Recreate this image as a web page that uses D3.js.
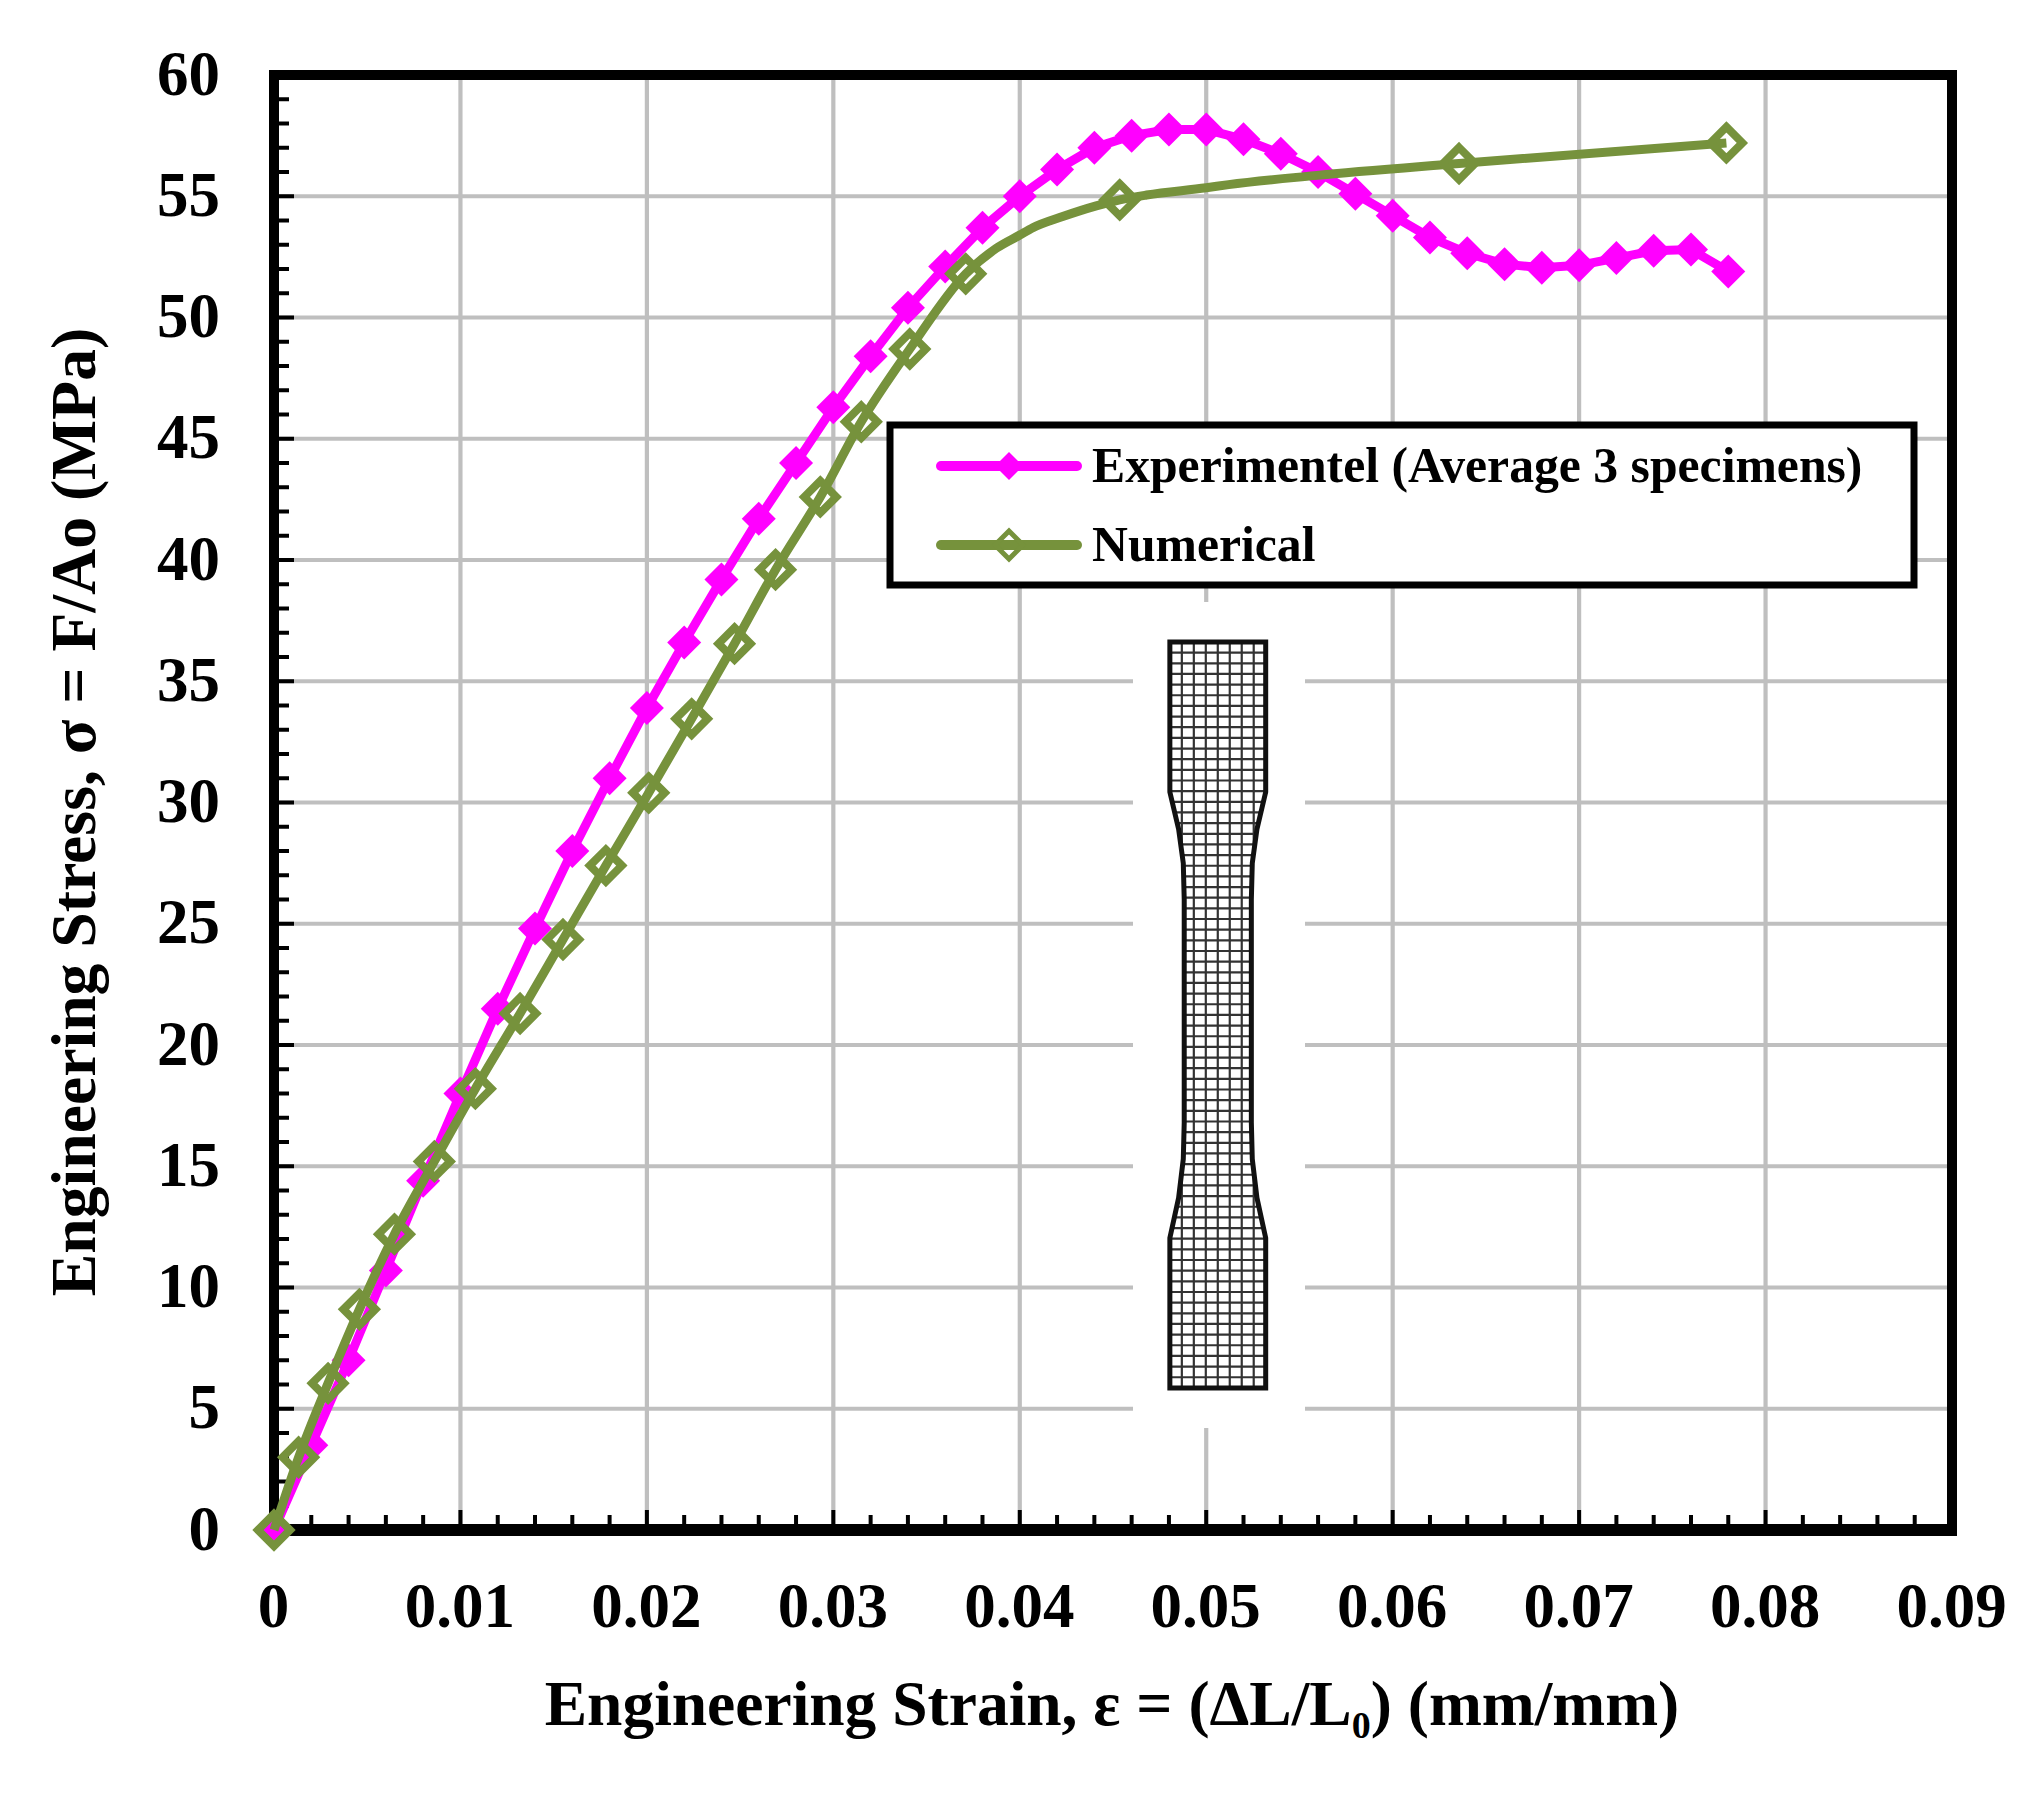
<!DOCTYPE html>
<html>
<head>
<meta charset="utf-8">
<title>Engineering stress-strain</title>
<script src="https://cdn.jsdelivr.net/npm/d3@7"></script>
<style>
	html, body { margin: 0; padding: 0; background: #fff; }
	svg { display: block; }
	text { font-family: "Liberation Serif", serif; font-weight: bold; fill: #000; }
</style>
</head>
<body>
<svg id="chart" width="2030" height="1797"></svg>
<script>
(function() {

	var xTicks = [0, 0.01, 0.02, 0.03, 0.04, 0.05, 0.06, 0.07, 0.08, 0.09];
	var yTicks = [0, 5, 10, 15, 20, 25, 30, 35, 40, 45, 50, 55, 60];
	var xTitle = 'Engineering Strain, ε = (ΔL/L';
	var xTitleSub = '0';
	var xTitleEnd = ') (mm/mm)';
	var yTitle = 'Engineering Stress, σ = F/Ao (MPa)';
	var seriesNames = ['Experimentel (Average 3 specimens)', 'Numerical'];

	var expStrain = [0, 0.002, 0.004, 0.006, 0.008, 0.01, 0.012, 0.014, 0.016, 0.018, 0.02, 0.022, 0.024, 0.026, 0.028,
		0.03, 0.032, 0.034, 0.036, 0.038, 0.04, 0.042, 0.044, 0.046, 0.048, 0.05, 0.052, 0.054, 0.056, 0.058,
		0.06, 0.062, 0.064, 0.066, 0.068, 0.07, 0.072, 0.074, 0.076, 0.078];
	var expStress = [0, 3.5, 7, 10.7, 14.4, 18, 21.5, 24.8, 28, 31, 33.9, 36.6, 39.2, 41.7, 44,
		46.3, 48.4, 50.4, 52.1, 53.7, 55, 56.1, 57, 57.5, 57.75, 57.75, 57.35, 56.75, 56, 55.1,
		54.2, 53.3, 52.65, 52.2, 52.05, 52.15, 52.45, 52.75, 52.8, 51.9];

	// marked points of the numerical curve
	var numStrain = [0, 0.00132, 0.0029, 0.00458, 0.00646, 0.0086, 0.0108, 0.0132, 0.0155, 0.0178, 0.0201, 0.0224, 0.0247,
		0.0269, 0.0293, 0.0315, 0.0341, 0.0371, 0.04536, 0.06356, 0.0779];
	var numStress = [0, 3, 6.05, 9.1, 12.2, 15.2, 18.2, 21.3, 24.35, 27.4, 30.4, 33.45, 36.55,
		39.6, 42.6, 45.7, 48.7, 51.8, 54.85, 56.35, 57.2];
	// unmarked points on the bend of the numerical curve
	var numBendStrain = [0.03873, 0.04, 0.0407, 0.0423, 0.0441, 0.0468, 0.05, 0.0512, 0.0558];
	var numBendStress = [52.85, 53.4, 53.7, 54.16, 54.6, 55.05, 55.35, 55.48, 55.85];

	// specimen outline, half width around its centre line against stress, top to bottom
	var specimenCentre = 0.05062;
	var specimenStress = [36.62, 30.43, 28.9, 27.5, 26, 16.8, 15.3, 13.7, 12.04, 5.86];
	var specimenHalf = [0.00257, 0.00257, 0.0021, 0.00185, 0.0018, 0.0018, 0.00185, 0.0021, 0.00257, 0.00257];
	var meshColumns = 8;
	var meshRows = 70;

	var svg = d3.select('#chart');
	var left = 274, right = 1952, top = 75, bottom = 1530;

	var x = d3.scaleLinear().domain([0, 0.09]).range([left, right]);
	var y = d3.scaleLinear().domain([0, 60]).range([bottom, top]);

	var fmt = function(d) { return d === 0 ? '0' : d3.format('.2f')(d); };

	// gridlines
	var grid = svg.append('g').attr('stroke', '#bfbfbf').attr('stroke-width', 4.2);
	grid.selectAll('.gx').data(xTicks.slice(1, -1)).join('line')
		.attr('x1', x).attr('x2', x).attr('y1', top).attr('y2', bottom);
	grid.selectAll('.gy').data(yTicks.slice(1, -1)).join('line')
		.attr('x1', left).attr('x2', right).attr('y1', y).attr('y2', y);

	// white patch that the specimen picture leaves over the grid
	svg.append('rect')
		.attr('x', 1133).attr('y', 602)
		.attr('width', 172).attr('height', 826)
		.attr('fill', '#fff');

	// specimen
	var specimenRight = specimenStress.map(function(s, i) { return [x(specimenCentre + specimenHalf[i]), y(s)]; });
	var specimenLeft = specimenStress.map(function(s, i) { return [x(specimenCentre - specimenHalf[i]), y(s)]; }).reverse();
	var outline = d3.line()(specimenRight.concat(specimenLeft)) + 'Z';

	svg.append('clipPath').attr('id', 'specimen-clip').append('path').attr('d', outline);

	var mesh = svg.append('g').attr('clip-path', 'url(#specimen-clip)')
		.attr('stroke', '#333').attr('stroke-width', 2.2);
	var mx0 = x(specimenCentre - specimenHalf[0]), mx1 = x(specimenCentre + specimenHalf[0]);
	var my0 = y(specimenStress[0]), my1 = y(specimenStress[specimenStress.length - 1]);
	mesh.selectAll('.mc').data(d3.range(1, meshColumns)).join('line')
		.attr('x1', function(d) { return mx0 + (mx1 - mx0) * d / meshColumns; })
		.attr('x2', function(d) { return mx0 + (mx1 - mx0) * d / meshColumns; })
		.attr('y1', my0).attr('y2', my1);
	mesh.selectAll('.mr').data(d3.range(1, meshRows)).join('line')
		.attr('x1', mx0).attr('x2', mx1)
		.attr('y1', function(d) { return my0 + (my1 - my0) * d / meshRows; })
		.attr('y2', function(d) { return my0 + (my1 - my0) * d / meshRows; });
	svg.append('path').attr('d', outline)
		.attr('fill', 'none').attr('stroke', '#111').attr('stroke-width', 5);

	// frame
	svg.append('rect')
		.attr('x', left).attr('y', top)
		.attr('width', right - left).attr('height', bottom - top)
		.attr('fill', 'none').attr('stroke', '#000').attr('stroke-width', 10);
	svg.append('line')
		.attr('x1', left - 5).attr('x2', right + 5).attr('y1', bottom).attr('y2', bottom)
		.attr('stroke', '#000').attr('stroke-width', 12);

	// ticks, all inward
	var ticks = svg.append('g').attr('stroke', '#000').attr('stroke-width', 4);
	ticks.selectAll('.tx').data(d3.range(1, 45)).join('line')
		.attr('x1', function(d) { return x(d * 0.002); })
		.attr('x2', function(d) { return x(d * 0.002); })
		.attr('y1', bottom)
		.attr('y2', function(d) { return bottom - (d % 5 === 0 ? 20 : 15); });
	ticks.selectAll('.ty').data(d3.range(1, 60)).join('line')
		.attr('y1', function(d) { return y(d); })
		.attr('y2', function(d) { return y(d); })
		.attr('x1', left)
		.attr('x2', function(d) { return left + (d % 5 === 0 ? 20 : 15); });

	// tick labels
	svg.selectAll('.xl').data(xTicks).join('text')
		.attr('x', function(d) { return x(d) - 0.5; }).attr('y', 1627)
		.attr('text-anchor', 'middle').attr('font-size', 63)
		.text(fmt);
	svg.selectAll('.yl').data(yTicks).join('text')
		.attr('x', 220).attr('y', function(d) { return y(d) + 19.5; })
		.attr('text-anchor', 'end').attr('font-size', 63)
		.text(function(d) { return d; });

	// axis titles
	var xt = svg.append('text')
		.attr('x', 1112).attr('y', 1725)
		.attr('text-anchor', 'middle').attr('font-size', 63.5);
	xt.append('tspan').text(xTitle);
	xt.append('tspan').attr('font-size', 38).attr('dy', 13).text(xTitleSub);
	xt.append('tspan').attr('dy', -13).text(xTitleEnd);

	svg.append('text')
		.attr('transform', 'translate(95,812) rotate(-90)')
		.attr('text-anchor', 'middle').attr('font-size', 63.7)
		.text(yTitle);

	// series
	var line = d3.line()
		.x(function(d) { return x(d[0]); })
		.y(function(d) { return y(d[1]); });

	var exp = d3.zip(expStrain, expStress);
	var num = d3.zip(numStrain, numStress);
	var numLine = num.concat(d3.zip(numBendStrain, numBendStress))
		.sort(function(a, b) { return a[0] - b[0]; });

	var diamond = function(r) { return 'M0,' + (-r) + 'L' + r + ',0L0,' + r + 'L' + (-r) + ',0Z'; };

	svg.append('path').attr('d', line(exp))
		.attr('fill', 'none').attr('stroke', '#ff00ff').attr('stroke-width', 9);
	svg.selectAll('.em').data(exp).join('path')
		.attr('d', diamond(17))
		.attr('transform', function(d) { return 'translate(' + x(d[0]) + ',' + y(d[1]) + ')'; })
		.attr('fill', '#ff00ff');

	svg.append('path').attr('d', line.curve(d3.curveMonotoneX)(numLine))
		.attr('fill', 'none').attr('stroke', '#76923c').attr('stroke-width', 9);
	svg.selectAll('.nm').data(num).join('path')
		.attr('d', diamond(16))
		.attr('transform', function(d) { return 'translate(' + x(d[0]) + ',' + y(d[1]) + ')'; })
		.attr('fill', 'none').attr('stroke', '#76923c').attr('stroke-width', 8);

	// legend
	var legend = svg.append('g');
	legend.append('rect')
		.attr('x', 890).attr('y', 425)
		.attr('width', 1024).attr('height', 160)
		.attr('fill', '#fff').attr('stroke', '#000').attr('stroke-width', 7);

	var colors = ['#ff00ff', '#76923c'];
	var rows = legend.selectAll('.row').data(seriesNames).join('g')
		.attr('transform', function(d, i) { return 'translate(0,' + (i === 0 ? 466 : 545) + ')'; });
	rows.append('line')
		.attr('x1', 941).attr('x2', 1077)
		.attr('stroke', function(d, i) { return colors[i]; })
		.attr('stroke-width', 10).attr('stroke-linecap', 'round');
	rows.append('path')
		.attr('d', diamond(14))
		.attr('transform', 'translate(1009,0)')
		.attr('fill', function(d, i) { return i === 0 ? colors[0] : 'none'; })
		.attr('stroke', function(d, i) { return i === 0 ? 'none' : colors[1]; })
		.attr('stroke-width', 5);
	rows.append('text')
		.attr('x', 1092).attr('y', 16)
		.attr('font-size', 49.7)
		.text(function(d) { return d; });

})();
</script>
</body>
</html>
